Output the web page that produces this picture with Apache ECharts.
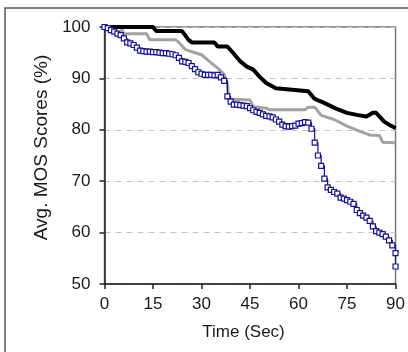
<!DOCTYPE html>
<html>
<head>
<meta charset="utf-8">
<script src="https://cdn.jsdelivr.net/npm/echarts@6/dist/echarts.min.js"></script>
<style>
  html, body { margin: 0; padding: 0; background: #fff; }
  #chart { width: 408px; height: 352px; }
</style>
</head>
<body>
<div id="chart"></div>
<script>
// time (sec) / score (%)
const xTicks = [0, 15, 30, 45, 60, 75, 90];
const yTicks = [50, 60, 70, 80, 90, 100];

const blackTime = [0, 15, 16, 24, 26, 27, 34, 35, 38, 40, 42, 44, 46, 48, 50, 53, 58, 63, 65, 67, 70, 72, 75, 78, 81, 83, 84, 86.5, 88, 89.5, 90];
const blackScore = [100, 100, 99.2, 99.2, 97.5, 97, 97, 96.2, 96.2, 94.8, 93.3, 92.3, 91.7, 90.3, 89.1, 88.1, 87.8, 87.5, 86, 85.5, 84.6, 84, 83.3, 82.9, 82.6, 83.3, 83.3, 81.6, 81, 80.5, 80.3];

const grayTime = [0, 5, 6, 13, 14, 22, 23, 25, 28, 30, 33, 35, 37, 38, 38.5, 45, 46, 50, 51, 62, 63, 65, 67, 71, 75, 79, 82, 85, 86, 90];
const grayScore = [100, 100, 98.7, 98.7, 97.5, 97.5, 97, 95.6, 95, 94.6, 93, 92, 90.8, 89, 86, 85.8, 84.5, 84.2, 83.9, 83.9, 84.4, 84.4, 82.8, 82, 80.7, 79.7, 79, 78.9, 77.6, 77.5];

const blueTime = [0, 1, 2, 3, 4, 5, 6, 7, 8, 9, 10, 11, 12, 13, 14, 15, 16, 17, 18, 19, 20, 21, 22, 23, 24, 25, 26, 27, 28, 29,
  30, 31, 32, 33, 34, 35, 36, 37, 38, 39, 40, 41, 42, 43, 44, 45, 46, 47, 48, 49, 50, 51, 52, 53, 54, 55, 56, 57, 58, 59,
  60, 61, 62, 63, 64, 65, 66, 67, 68, 69, 70, 71, 72, 73, 74, 75, 76, 77, 78, 79, 80, 81, 82, 83, 84, 85, 86, 87, 88, 89, 90, 90];
const blueScore = [100, 99.8, 99.4, 99.1, 98.7, 98.4, 97.8, 97, 96.8, 96.5, 96, 95.4, 95.3, 95.2, 95.2, 95.1, 95.1, 95, 94.9, 94.9,
  94.8, 94.7, 94.5, 94, 93.3, 93.2, 93, 92.4, 91.8, 91.2, 90.9, 90.7, 90.7, 90.7, 90.6, 90.7, 90.2, 89.5, 86.5, 85.5,
  84.9, 84.9, 84.8, 84.7, 84.6, 84.2, 83.8, 83.5, 83.3, 83, 82.7, 82.6, 82.4, 82, 81.6, 81, 80.7, 80.6, 80.7, 80.8,
  81.2, 81.3, 81.5, 81.4, 80.2, 77.5, 75, 73, 70.5, 68.8, 68.3, 67.9, 67.6, 66.8, 66.6, 66.3, 66, 65.6, 64.4, 63.8,
  63.3, 62.9, 62.3, 61.2, 60.3, 60, 59.7, 59.2, 58.5, 57.5, 56, 53.4];

const pairs = (xs, ys) => xs.map((x, i) => [x, ys[i]]);

const chart = echarts.init(document.getElementById('chart'), null, { renderer: 'canvas' });

const labelFont = { color: '#1a1a1a', fontSize: 17, fontFamily: 'Liberation Sans, Arial, sans-serif' };

const option = {
  animation: false,
  backgroundColor: '#fff',
  graphic: [
    {
      type: 'rect',
      shape: { x: 5, y: 8, width: 420, height: 360 },
      style: { fill: 'none', stroke: '#555', lineWidth: 1.5 },
      z: 0,
    },
  ],
  grid: {
    left: 104.5,
    top: 27,
    right: 9.5,
    bottom: 68,
    show: true,
    borderColor: '#777',
    borderWidth: 1.5,
  },
  xAxis: {
    type: 'value',
    min: xTicks[0],
    max: xTicks[xTicks.length - 1],
    interval: 15,
    name: 'Time (Sec)',
    nameLocation: 'middle',
    nameGap: 40,
    nameTextStyle: { ...labelFont, padding: [0, 13, 0, 0] },
    axisLine: { show: true, lineStyle: { color: '#222', width: 1.5 } },
    axisTick: { show: true, inside: false, length: 5, lineStyle: { color: '#222', width: 1.5 } },
    axisLabel: { ...labelFont, margin: 12 },
    splitLine: { show: false },
  },
  yAxis: {
    type: 'value',
    min: yTicks[0],
    max: yTicks[yTicks.length - 1],
    interval: 10,
    name: 'Avg. MOS Scores (%)',
    nameLocation: 'middle',
    nameGap: 53,
    // the original's rotated title runs a bit wider than the tick labels
    nameTextStyle: { ...labelFont, fontSize: 19, padding: [0, 0, 0, 16] },
    axisLine: { show: true, lineStyle: { color: '#222', width: 1.5 } },
    axisTick: { show: true, inside: false, length: 5, lineStyle: { color: '#222', width: 1.5 } },
    axisLabel: { ...labelFont, margin: 14 },
    splitLine: { show: true, lineStyle: { color: '#c4c4c4', type: [6, 5], width: 1 } },
  },
  series: [
    {
      name: 'gray',
      type: 'line',
      data: pairs(grayTime, grayScore),
      showSymbol: false,
      lineStyle: { color: '#a3a3a3', width: 3 },
      z: 3,
    },
    {
      name: 'black',
      type: 'line',
      data: pairs(blackTime, blackScore),
      showSymbol: false,
      lineStyle: { color: '#000', width: 4 },
      z: 4,
    },
    {
      name: 'blue',
      type: 'line',
      data: pairs(blueTime, blueScore),
      step: 'end',
      symbol: 'rect',
      symbolSize: 5,
      showAllSymbol: true,
      itemStyle: { color: '#fff', borderColor: '#14148c', borderWidth: 1.2 },
      lineStyle: { color: '#14148c', width: 1.2 },
      z: 5,
    },
  ],
};

chart.setOption(option);
</script>
</body>
</html>
